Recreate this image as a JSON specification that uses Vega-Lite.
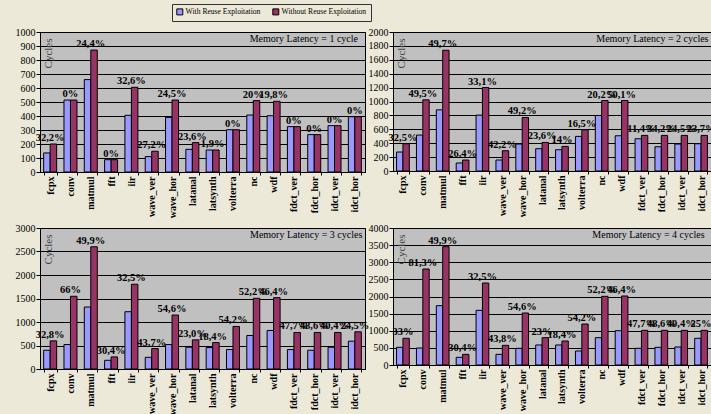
{
  "$schema": "https://vega.github.io/schema/vega-lite/v6.json",
  "background": "#ece9d8",
  "padding": {"left": 14, "top": 3, "right": 0, "bottom": 0},
  "data": {"values": [
    {"lat":1,"cat":"fcpx","s":"With Reuse Exploitation","v":136,"pct":""},
    {"lat":1,"cat":"fcpx","s":"Without Reuse Exploitation","v":200,"pct":"32,2%"},
    {"lat":1,"cat":"conv","s":"With Reuse Exploitation","v":514,"pct":""},
    {"lat":1,"cat":"conv","s":"Without Reuse Exploitation","v":514,"pct":"0%"},
    {"lat":1,"cat":"matmul","s":"With Reuse Exploitation","v":660,"pct":""},
    {"lat":1,"cat":"matmul","s":"Without Reuse Exploitation","v":871,"pct":"24,4%"},
    {"lat":1,"cat":"fft","s":"With Reuse Exploitation","v":88,"pct":""},
    {"lat":1,"cat":"fft","s":"Without Reuse Exploitation","v":88,"pct":"0%"},
    {"lat":1,"cat":"iir","s":"With Reuse Exploitation","v":405,"pct":""},
    {"lat":1,"cat":"iir","s":"Without Reuse Exploitation","v":605,"pct":"32,6%"},
    {"lat":1,"cat":"wave_ver","s":"With Reuse Exploitation","v":110,"pct":""},
    {"lat":1,"cat":"wave_ver","s":"Without Reuse Exploitation","v":148,"pct":"27,2%"},
    {"lat":1,"cat":"wave_hor","s":"With Reuse Exploitation","v":390,"pct":""},
    {"lat":1,"cat":"wave_hor","s":"Without Reuse Exploitation","v":514,"pct":"24,5%"},
    {"lat":1,"cat":"latanal","s":"With Reuse Exploitation","v":162,"pct":""},
    {"lat":1,"cat":"latanal","s":"Without Reuse Exploitation","v":210,"pct":"23,6%"},
    {"lat":1,"cat":"latsynth","s":"With Reuse Exploitation","v":157,"pct":""},
    {"lat":1,"cat":"latsynth","s":"Without Reuse Exploitation","v":157,"pct":"1,9%"},
    {"lat":1,"cat":"volterra","s":"With Reuse Exploitation","v":302,"pct":""},
    {"lat":1,"cat":"volterra","s":"Without Reuse Exploitation","v":302,"pct":"0%"},
    {"lat":1,"cat":"nc","s":"With Reuse Exploitation","v":407,"pct":""},
    {"lat":1,"cat":"nc","s":"Without Reuse Exploitation","v":510,"pct":"20%"},
    {"lat":1,"cat":"wdf","s":"With Reuse Exploitation","v":402,"pct":""},
    {"lat":1,"cat":"wdf","s":"Without Reuse Exploitation","v":505,"pct":"19,8%"},
    {"lat":1,"cat":"fdct_ver","s":"With Reuse Exploitation","v":324,"pct":""},
    {"lat":1,"cat":"fdct_ver","s":"Without Reuse Exploitation","v":324,"pct":"0%"},
    {"lat":1,"cat":"fdct_hor","s":"With Reuse Exploitation","v":267,"pct":""},
    {"lat":1,"cat":"fdct_hor","s":"Without Reuse Exploitation","v":267,"pct":"0%"},
    {"lat":1,"cat":"idct_ver","s":"With Reuse Exploitation","v":331,"pct":""},
    {"lat":1,"cat":"idct_ver","s":"Without Reuse Exploitation","v":331,"pct":"0%"},
    {"lat":1,"cat":"idct_hor","s":"With Reuse Exploitation","v":395,"pct":""},
    {"lat":1,"cat":"idct_hor","s":"Without Reuse Exploitation","v":395,"pct":"0%"},

    {"lat":2,"cat":"fcpx","s":"With Reuse Exploitation","v":273,"pct":""},
    {"lat":2,"cat":"fcpx","s":"Without Reuse Exploitation","v":392,"pct":"32,5%"},
    {"lat":2,"cat":"conv","s":"With Reuse Exploitation","v":517,"pct":""},
    {"lat":2,"cat":"conv","s":"Without Reuse Exploitation","v":1024,"pct":"49,5%"},
    {"lat":2,"cat":"matmul","s":"With Reuse Exploitation","v":880,"pct":""},
    {"lat":2,"cat":"matmul","s":"Without Reuse Exploitation","v":1737,"pct":"49,7%"},
    {"lat":2,"cat":"fft","s":"With Reuse Exploitation","v":115,"pct":""},
    {"lat":2,"cat":"fft","s":"Without Reuse Exploitation","v":158,"pct":"26,4%"},
    {"lat":2,"cat":"iir","s":"With Reuse Exploitation","v":804,"pct":""},
    {"lat":2,"cat":"iir","s":"Without Reuse Exploitation","v":1201,"pct":"33,1%"},
    {"lat":2,"cat":"wave_ver","s":"With Reuse Exploitation","v":158,"pct":""},
    {"lat":2,"cat":"wave_ver","s":"Without Reuse Exploitation","v":292,"pct":"42,2%"},
    {"lat":2,"cat":"wave_hor","s":"With Reuse Exploitation","v":388,"pct":""},
    {"lat":2,"cat":"wave_hor","s":"Without Reuse Exploitation","v":770,"pct":"49,2%"},
    {"lat":2,"cat":"latanal","s":"With Reuse Exploitation","v":321,"pct":""},
    {"lat":2,"cat":"latanal","s":"Without Reuse Exploitation","v":411,"pct":"23,6%"},
    {"lat":2,"cat":"latsynth","s":"With Reuse Exploitation","v":306,"pct":""},
    {"lat":2,"cat":"latsynth","s":"Without Reuse Exploitation","v":354,"pct":"14%"},
    {"lat":2,"cat":"volterra","s":"With Reuse Exploitation","v":498,"pct":""},
    {"lat":2,"cat":"volterra","s":"Without Reuse Exploitation","v":593,"pct":"16,5%"},
    {"lat":2,"cat":"nc","s":"With Reuse Exploitation","v":799,"pct":""},
    {"lat":2,"cat":"nc","s":"Without Reuse Exploitation","v":1014,"pct":"20,2%"},
    {"lat":2,"cat":"wdf","s":"With Reuse Exploitation","v":507,"pct":""},
    {"lat":2,"cat":"wdf","s":"Without Reuse Exploitation","v":1014,"pct":"50,1%"},
    {"lat":2,"cat":"fdct_ver","s":"With Reuse Exploitation","v":464,"pct":""},
    {"lat":2,"cat":"fdct_ver","s":"Without Reuse Exploitation","v":512,"pct":"11,4%"},
    {"lat":2,"cat":"fdct_hor","s":"With Reuse Exploitation","v":349,"pct":""},
    {"lat":2,"cat":"fdct_hor","s":"Without Reuse Exploitation","v":512,"pct":"34,2%"},
    {"lat":2,"cat":"idct_ver","s":"With Reuse Exploitation","v":388,"pct":""},
    {"lat":2,"cat":"idct_ver","s":"Without Reuse Exploitation","v":512,"pct":"24,5%"},
    {"lat":2,"cat":"idct_hor","s":"With Reuse Exploitation","v":392,"pct":""},
    {"lat":2,"cat":"idct_hor","s":"Without Reuse Exploitation","v":512,"pct":"23,7%"},

    {"lat":3,"cat":"fcpx","s":"With Reuse Exploitation","v":399,"pct":""},
    {"lat":3,"cat":"fcpx","s":"Without Reuse Exploitation","v":599,"pct":"32,8%"},
    {"lat":3,"cat":"conv","s":"With Reuse Exploitation","v":520,"pct":""},
    {"lat":3,"cat":"conv","s":"Without Reuse Exploitation","v":1547,"pct":"66%"},
    {"lat":3,"cat":"matmul","s":"With Reuse Exploitation","v":1319,"pct":""},
    {"lat":3,"cat":"matmul","s":"Without Reuse Exploitation","v":2601,"pct":"49,9%"},
    {"lat":3,"cat":"fft","s":"With Reuse Exploitation","v":185,"pct":""},
    {"lat":3,"cat":"fft","s":"Without Reuse Exploitation","v":257,"pct":"30,4%"},
    {"lat":3,"cat":"iir","s":"With Reuse Exploitation","v":1219,"pct":""},
    {"lat":3,"cat":"iir","s":"Without Reuse Exploitation","v":1803,"pct":"32,5%"},
    {"lat":3,"cat":"wave_ver","s":"With Reuse Exploitation","v":249,"pct":""},
    {"lat":3,"cat":"wave_ver","s":"Without Reuse Exploitation","v":435,"pct":"43,7%"},
    {"lat":3,"cat":"wave_hor","s":"With Reuse Exploitation","v":520,"pct":""},
    {"lat":3,"cat":"wave_hor","s":"Without Reuse Exploitation","v":1148,"pct":"54,6%"},
    {"lat":3,"cat":"latanal","s":"With Reuse Exploitation","v":463,"pct":""},
    {"lat":3,"cat":"latanal","s":"Without Reuse Exploitation","v":620,"pct":"23,0%"},
    {"lat":3,"cat":"latsynth","s":"With Reuse Exploitation","v":456,"pct":""},
    {"lat":3,"cat":"latsynth","s":"Without Reuse Exploitation","v":563,"pct":"18,4%"},
    {"lat":3,"cat":"volterra","s":"With Reuse Exploitation","v":413,"pct":""},
    {"lat":3,"cat":"volterra","s":"Without Reuse Exploitation","v":905,"pct":"54,2%"},
    {"lat":3,"cat":"nc","s":"With Reuse Exploitation","v":713,"pct":""},
    {"lat":3,"cat":"nc","s":"Without Reuse Exploitation","v":1504,"pct":"52,2%"},
    {"lat":3,"cat":"wdf","s":"With Reuse Exploitation","v":820,"pct":""},
    {"lat":3,"cat":"wdf","s":"Without Reuse Exploitation","v":1518,"pct":"46,4%"},
    {"lat":3,"cat":"fdct_ver","s":"With Reuse Exploitation","v":413,"pct":""},
    {"lat":3,"cat":"fdct_ver","s":"Without Reuse Exploitation","v":777,"pct":"47,7%"},
    {"lat":3,"cat":"fdct_hor","s":"With Reuse Exploitation","v":399,"pct":""},
    {"lat":3,"cat":"fdct_hor","s":"Without Reuse Exploitation","v":777,"pct":"48,6%"},
    {"lat":3,"cat":"idct_ver","s":"With Reuse Exploitation","v":463,"pct":""},
    {"lat":3,"cat":"idct_ver","s":"Without Reuse Exploitation","v":777,"pct":"40,4%"},
    {"lat":3,"cat":"idct_hor","s":"With Reuse Exploitation","v":592,"pct":""},
    {"lat":3,"cat":"idct_hor","s":"Without Reuse Exploitation","v":791,"pct":"24,5%"},

    {"lat":4,"cat":"fcpx","s":"With Reuse Exploitation","v":516,"pct":""},
    {"lat":4,"cat":"fcpx","s":"Without Reuse Exploitation","v":779,"pct":"33%"},
    {"lat":4,"cat":"conv","s":"With Reuse Exploitation","v":496,"pct":""},
    {"lat":4,"cat":"conv","s":"Without Reuse Exploitation","v":2803,"pct":"81,3%"},
    {"lat":4,"cat":"matmul","s":"With Reuse Exploitation","v":1732,"pct":""},
    {"lat":4,"cat":"matmul","s":"Without Reuse Exploitation","v":3455,"pct":"49,9%"},
    {"lat":4,"cat":"fft","s":"With Reuse Exploitation","v":224,"pct":""},
    {"lat":4,"cat":"fft","s":"Without Reuse Exploitation","v":311,"pct":"30,4%"},
    {"lat":4,"cat":"iir","s":"With Reuse Exploitation","v":1596,"pct":""},
    {"lat":4,"cat":"iir","s":"Without Reuse Exploitation","v":2394,"pct":"32,5%"},
    {"lat":4,"cat":"wave_ver","s":"With Reuse Exploitation","v":311,"pct":""},
    {"lat":4,"cat":"wave_ver","s":"Without Reuse Exploitation","v":574,"pct":"43,8%"},
    {"lat":4,"cat":"wave_hor","s":"With Reuse Exploitation","v":487,"pct":""},
    {"lat":4,"cat":"wave_hor","s":"Without Reuse Exploitation","v":1518,"pct":"54,6%"},
    {"lat":4,"cat":"latanal","s":"With Reuse Exploitation","v":584,"pct":""},
    {"lat":4,"cat":"latanal","s":"Without Reuse Exploitation","v":798,"pct":"23%"},
    {"lat":4,"cat":"latsynth","s":"With Reuse Exploitation","v":584,"pct":""},
    {"lat":4,"cat":"latsynth","s":"Without Reuse Exploitation","v":701,"pct":"18,4%"},
    {"lat":4,"cat":"volterra","s":"With Reuse Exploitation","v":409,"pct":""},
    {"lat":4,"cat":"volterra","s":"Without Reuse Exploitation","v":1197,"pct":"54,2%"},
    {"lat":4,"cat":"nc","s":"With Reuse Exploitation","v":798,"pct":""},
    {"lat":4,"cat":"nc","s":"Without Reuse Exploitation","v":2005,"pct":"52,2%"},
    {"lat":4,"cat":"wdf","s":"With Reuse Exploitation","v":1002,"pct":""},
    {"lat":4,"cat":"wdf","s":"Without Reuse Exploitation","v":2015,"pct":"46,4%"},
    {"lat":4,"cat":"fdct_ver","s":"With Reuse Exploitation","v":487,"pct":""},
    {"lat":4,"cat":"fdct_ver","s":"Without Reuse Exploitation","v":1012,"pct":"47,7%"},
    {"lat":4,"cat":"fdct_hor","s":"With Reuse Exploitation","v":516,"pct":""},
    {"lat":4,"cat":"fdct_hor","s":"Without Reuse Exploitation","v":1012,"pct":"48,6%"},
    {"lat":4,"cat":"idct_ver","s":"With Reuse Exploitation","v":526,"pct":""},
    {"lat":4,"cat":"idct_ver","s":"Without Reuse Exploitation","v":1012,"pct":"40,4%"},
    {"lat":4,"cat":"idct_hor","s":"With Reuse Exploitation","v":779,"pct":""},
    {"lat":4,"cat":"idct_hor","s":"Without Reuse Exploitation","v":1012,"pct":"25%"}
  ]},
  "columns": 2,
  "bounds": "flush",
  "spacing": {"row": 56, "column": 28},
  "resolve": {"scale": {"x": "independent", "y": "independent", "xOffset": "independent", "color": "shared"}, "axis": {"x": "independent", "y": "independent"}},
  "concat": [
    {
      "width": 325, "height": 140,
      "title": {"text": "Memory Latency = 1 cycle"},
      "transform": [{"filter": "datum.lat == 1"}],
      "layer": [
        {"mark": {"type": "bar", "stroke": "black", "strokeWidth": 1},
         "encoding": {
           "x": {"field": "cat", "type": "nominal", "sort": null, "scale": {"paddingInner": 0.36, "paddingOuter": 0.18}},
           "xOffset": {"field": "s", "type": "nominal", "sort": null},
           "y": {"field": "v", "type": "quantitative", "scale": {"domain": [0, 1000], "nice": false}, "axis": {"tickCount": 10, "format": "d", "title": "Cycles"}},
           "color": {"field": "s", "type": "nominal", "sort": null,
             "scale": {"domain": ["With Reuse Exploitation", "Without Reuse Exploitation"], "range": ["#9999ff", "#993366"]},
             "legend": {"orient": "none", "legendX": 132, "legendY": -28, "direction": "horizontal", "title": null}}
         }},
        {"transform": [{"filter": "datum.pct != ''"}],
         "mark": {"type": "text", "baseline": "bottom", "dy": -1, "fontWeight": "bold", "fontSize": 10.5},
         "encoding": {
           "x": {"field": "cat", "type": "nominal", "sort": null},
           "y": {"field": "v", "type": "quantitative"},
           "text": {"field": "pct"}
         }}
      ]
    },
    {
      "width": 318, "height": 139,
      "title": {"text": "Memory Latency = 2 cycles"},
      "transform": [{"filter": "datum.lat == 2"}],
      "layer": [
        {"mark": {"type": "bar", "stroke": "black", "strokeWidth": 1},
         "encoding": {
           "x": {"field": "cat", "type": "nominal", "sort": null, "scale": {"paddingInner": 0.36, "paddingOuter": 0.18}},
           "xOffset": {"field": "s", "type": "nominal", "sort": null},
           "y": {"field": "v", "type": "quantitative", "scale": {"domain": [0, 2000], "nice": false}, "axis": {"tickCount": 10, "format": "d", "title": "Cycles"}},
           "color": {"field": "s", "type": "nominal", "sort": null}
         }},
        {"transform": [{"filter": "datum.pct != ''"}],
         "mark": {"type": "text", "baseline": "bottom", "dy": -1, "fontWeight": "bold", "fontSize": 10.5},
         "encoding": {
           "x": {"field": "cat", "type": "nominal", "sort": null},
           "y": {"field": "v", "type": "quantitative"},
           "text": {"field": "pct"}
         }}
      ]
    },
    {
      "width": 325, "height": 141,
      "title": {"text": "Memory Latency = 3 cycles"},
      "transform": [{"filter": "datum.lat == 3"}],
      "layer": [
        {"mark": {"type": "bar", "stroke": "black", "strokeWidth": 1},
         "encoding": {
           "x": {"field": "cat", "type": "nominal", "sort": null, "scale": {"paddingInner": 0.36, "paddingOuter": 0.18}},
           "xOffset": {"field": "s", "type": "nominal", "sort": null},
           "y": {"field": "v", "type": "quantitative", "scale": {"domain": [0, 3000], "nice": false}, "axis": {"tickCount": 6, "format": "d", "title": "Cycles"}},
           "color": {"field": "s", "type": "nominal", "sort": null}
         }},
        {"transform": [{"filter": "datum.pct != ''"}],
         "mark": {"type": "text", "baseline": "bottom", "dy": -1, "fontWeight": "bold", "fontSize": 10.5},
         "encoding": {
           "x": {"field": "cat", "type": "nominal", "sort": null},
           "y": {"field": "v", "type": "quantitative"},
           "text": {"field": "pct"}
         }}
      ]
    },
    {
      "width": 318, "height": 137,
      "title": {"text": "Memory Latency = 4 cycles"},
      "transform": [{"filter": "datum.lat == 4"}],
      "layer": [
        {"mark": {"type": "bar", "stroke": "black", "strokeWidth": 1},
         "encoding": {
           "x": {"field": "cat", "type": "nominal", "sort": null, "scale": {"paddingInner": 0.36, "paddingOuter": 0.18}},
           "xOffset": {"field": "s", "type": "nominal", "sort": null},
           "y": {"field": "v", "type": "quantitative", "scale": {"domain": [0, 4000], "nice": false}, "axis": {"tickCount": 8, "format": "d", "title": "Cycles"}},
           "color": {"field": "s", "type": "nominal", "sort": null}
         }},
        {"transform": [{"filter": "datum.pct != ''"}],
         "mark": {"type": "text", "baseline": "bottom", "dy": -1, "fontWeight": "bold", "fontSize": 10.5},
         "encoding": {
           "x": {"field": "cat", "type": "nominal", "sort": null},
           "y": {"field": "v", "type": "quantitative"},
           "text": {"field": "pct"}
         }}
      ]
    }
  ],
  "config": {
    "font": "Liberation Serif",
    "view": {"fill": "#c0c0c0", "stroke": "black", "strokeWidth": 1},
    "title": {"anchor": "end", "orient": "top", "offset": -17, "dx": -7, "fontSize": 10, "fontWeight": "normal", "color": "black", "font": "Liberation Serif"},
    "text": {"color": "black", "font": "Liberation Serif"},
    "axisX": {"title": null, "labelAngle": -90, "labelFontWeight": "bold", "labelFontSize": 10, "labelColor": "black", "tickBand": "extent", "tickColor": "black", "tickSize": 3, "domainColor": "black", "labelPadding": 1, "grid": false},
    "axisY": {"titleAngle": 270, "titleAlign": "right", "titleBaseline": "top", "titleX": 2, "titleY": 6, "titleFontSize": 11, "titleFontWeight": "normal", "titleColor": "#444444", "labelFontSize": 10, "labelColor": "black", "labelPadding": 1, "tickColor": "black", "tickSize": 4, "domainColor": "black", "gridColor": "black", "gridOpacity": 1, "gridWidth": 1},
    "legend": {"fillColor": "#ece9d8", "strokeColor": "#333333", "padding": 4, "symbolType": "square", "symbolSize": 36, "symbolStrokeColor": "black", "symbolStrokeWidth": 1, "labelFontSize": 7.6, "labelColor": "black", "columnPadding": 9, "labelOffset": 2}
  }
}
